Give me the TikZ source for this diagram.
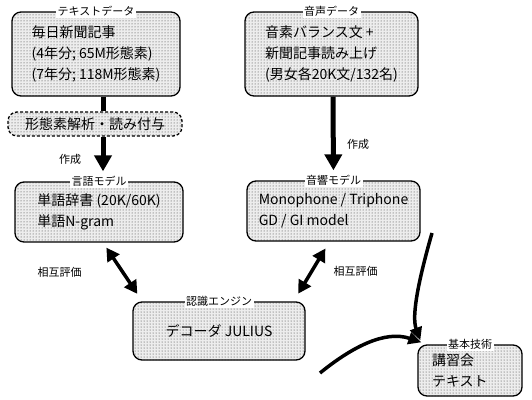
\documentclass[tikz,border=0pt]{standalone}
\usepackage{fontspec}
\setmainfont{Noto Sans CJK JP}
\usepackage{tikz}
\usetikzlibrary{arrows.meta, positioning, calc, patterns}

\tikzset{
  databox/.style={draw, line width=1.3pt, rounded corners=9pt, preaction={fill=black!7},
    pattern=dots, pattern color=black!80,
    font=\fontsize{14}{21}\selectfont, align=left, inner sep=3pt},
  boxtitle/.style={fill=white, inner sep=1.5pt, font=\fontsize{11}{12}\selectfont},
  bigarrow/.style={line width=5pt, -{Triangle[length=16pt,width=17pt]}},
  dblarrow/.style={line width=3.5pt, {Triangle[length=13pt,width=14pt]}-{Triangle[length=13pt,width=14pt]}},
  curvearrow/.style={line width=3.5pt, -{Triangle[length=13pt,width=12pt]}},
  note/.style={font=\fontsize{11}{12}\selectfont}
}

\begin{document}
\begin{tikzpicture}[x=1pt, y=-1pt]
  \useasboundingbox (0,0) rectangle (532,399);

  % Text data
  \node[databox, minimum width=168pt, minimum height=84pt] (textdata) at (96,54)
    {毎日新聞記事\\(4年分; 65M形態素)\\(7年分; 118M形態素)};
  \node[boxtitle] (textdatatitle) at (textdata.north) {テキストデータ};
  \node[databox, dash pattern=on 3pt off 2pt, minimum width=174pt, minimum height=24pt] (morph) at (95,124)
    {形態素解析・読み付与};
  \draw[line width=5pt] ([xshift=7pt]textdata.south) -- ([xshift=8pt]morph.north);

  % Speech data
  \node[databox, minimum width=173pt, minimum height=84pt] (speechdata) at (331.5,54)
    {音素バランス文 +\\新聞記事読み上げ\\(男女各20K文/132名)};
  \node[boxtitle] (speechdatatitle) at (speechdata.north) {音声データ};

  % Language model
  \node[databox, minimum width=168pt, minimum height=60pt] (langmodel) at (99,212)
    {単語辞書 (20K/60K)\\単語N-gram};
  \node[boxtitle] (langmodeltitle) at (langmodel.north) {言語モデル};
  \draw[bigarrow, shorten >=10pt] ([xshift=8pt]morph.south) -- ([xshift=4pt]langmodel.north)
    node[midway, left=16pt, note] (madeL) {作成};

  % Acoustic model
  \node[databox, minimum width=173pt, minimum height=60pt] (acmodel) at (333.5,211)
    {Monophone / Triphone\\GD / GI model};
  \node[boxtitle] (acmodeltitle) at (acmodel.north) {音響モデル};
  \draw[bigarrow, shorten >=10pt] ([xshift=1.5pt]speechdata.south) -- (acmodel.north)
    node[pos=0.57, right=8pt, note] (madeR) {作成};

  % Recognition engine
  \node[databox, minimum width=172pt, minimum height=58pt] (engine) at (219,331)
    {デコーダ JULIUS};
  \node[boxtitle] (enginetitle) at (engine.north) {認識エンジン};
  \draw[dblarrow, shorten <=6pt, shorten >=9pt] ([xshift=4pt]langmodel.south) -- ([xshift=10pt]engine.north west)
    node[midway, left=36pt, note] (evalL) {相互評価};
  \draw[dblarrow, shorten <=8pt, shorten >=9pt] ([xshift=-4pt]acmodel.south) -- ([xshift=-12pt]engine.north east)
    node[midway, right=17pt, note] (evalR) {相互評価};

  % Basic techniques
  \node[databox, minimum width=104pt, minimum height=51pt, text width=76pt] (basic) at (470,370.5)
    {講習会\\テキスト};
  \node[boxtitle] (basictitle) at (basic.north) {基本技術};
  \coordinate (curveA) at (432,233);
  \coordinate (curveB) at (320,373);
  \draw[curvearrow] (curveA) .. controls (420,275) and (411,315) .. ([xshift=3pt,yshift=4pt]basic.north west);
  \draw[curvearrow] (curveB) .. controls (352,347) and (385,330) .. ([xshift=4pt,yshift=2pt]basic.north west);
\end{tikzpicture}
\end{document}
